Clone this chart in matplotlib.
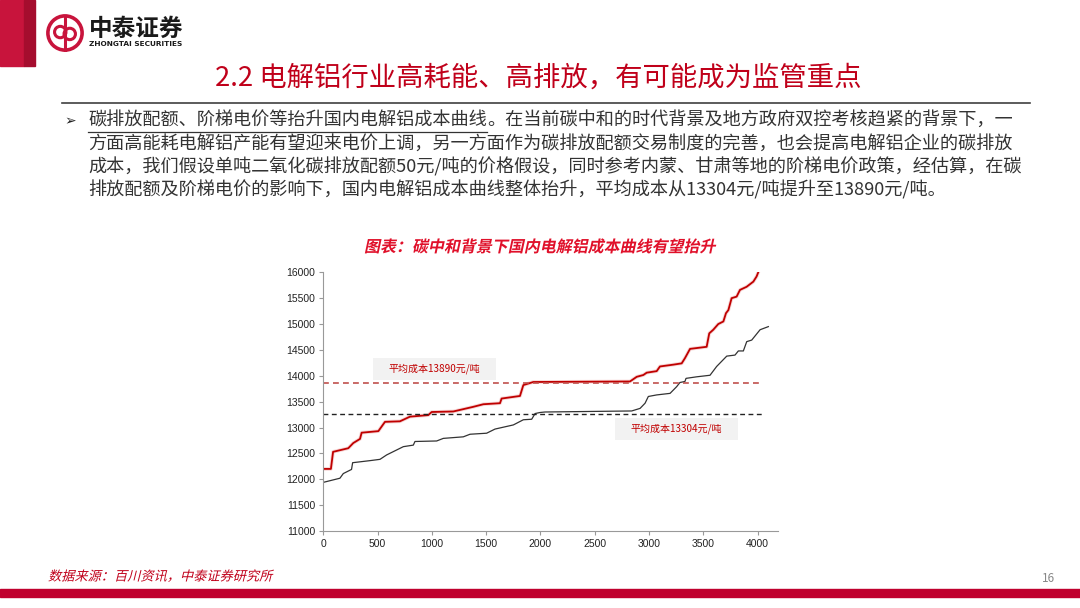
import matplotlib
matplotlib.use("Agg")
import matplotlib.pyplot as plt
from matplotlib.patches import Rectangle, Circle
from matplotlib.lines import Line2D
from matplotlib.patheffects import AbstractPathEffect
from matplotlib.transforms import Affine2D

plt.rcParams['font.family'] = ['Noto Sans CJK SC', 'DejaVu Sans']

# ---- data ----
red_x = [0, 70, 90, 230, 276, 338, 353, 507, 568, 706, 798, 967, 998, 1197, 1381,
         1474, 1627, 1642, 1811, 1842, 1934, 2824, 2886, 2947, 2978, 3070, 3100,
         3223, 3300, 3330, 3377, 3530, 3554, 3591, 3637, 3684, 3708, 3730, 3760,
         3806, 3837, 3898, 3960, 3990, 4005]
red_y = [12200, 12200, 12530, 12600, 12700, 12780, 12900, 12930, 13110, 13120, 13210,
         13240, 13300, 13310, 13400, 13450, 13470, 13560, 13610, 13820, 13880, 13890,
         13980, 14015, 14060, 14090, 14180, 14215, 14240, 14340, 14520, 14560, 14820,
         14890, 15000, 15050, 15210, 15270, 15500, 15530, 15660, 15720, 15820, 15920,
         16000]
blk_x = [0, 153, 184, 260, 270, 430, 522, 583, 737, 829, 844, 1044, 1105, 1289, 1351,
         1504, 1581, 1750, 1842, 1919, 1950, 1995, 2041, 2840, 2917, 2963, 2993, 3070,
         3193, 3254, 3284, 3330, 3340, 3438, 3561, 3622, 3715, 3791, 3822, 3868, 3899,
         3945, 4022, 4098]
blk_y = [11940, 12020, 12110, 12190, 12320, 12360, 12385, 12470, 12630, 12660, 12730,
         12740, 12790, 12820, 12870, 12890, 12970, 13050, 13150, 13160, 13270, 13290,
         13300, 13320, 13370, 13470, 13600, 13630, 13660, 13790, 13870, 13890, 13950,
         13980, 14010, 14180, 14380, 14400, 14480, 14480, 14660, 14690, 14890, 14950]
avg_new = 13870   # dashed red level as drawn
avg_old = 13270   # dashed black level as drawn
avg_end = 4036
label_new = "平均成本13890元/吨"
label_old = "平均成本13304元/吨"
x_ticks = [0, 500, 1000, 1500, 2000, 2500, 3000, 3500, 4000]
y_ticks = [11000, 11500, 12000, 12500, 13000, 13500, 14000, 14500, 15000, 15500, 16000]

title = "2.2 电解铝行业高耗能、高排放，有可能成为监管重点"
chart_title = "图表：碳中和背景下国内电解铝成本曲线有望抬升"
body_lead = "碳排放配额、阶梯电价等抬升国内电解铝成本曲线"
body_lines = [
    "。在当前碳中和的时代背景及地方政府双控考核趋紧的背景下，一",
    "方面高能耗电解铝产能有望迎来电价上调，另一方面作为碳排放配额交易制度的完善，也会提高电解铝企业的碳排放",
    "成本，我们假设单吨二氧化碳排放配额50元/吨的价格假设，同时参考内蒙、甘肃等地的阶梯电价政策，经估算，在碳",
    "排放配额及阶梯电价的影响下，国内电解铝成本曲线整体抬升，平均成本从13304元/吨提升至13890元/吨。",
]
source = "数据来源：百川资讯，中泰证券研究所"

W, H = 1080, 608
RED = '#c0001a'


class Skew(AbstractPathEffect):
    # fake italic for CJK fonts
    def __init__(self, deg=12):
        super().__init__()
        self.deg = deg

    def draw_path(self, renderer, gc, tpath, affine, rgbFace=None):
        renderer.draw_path(gc, tpath, Affine2D().skew_deg(self.deg, 0) + affine, rgbFace)


def fx(px):
    return px / W


def fy(py):
    return 1 - py / H


fig = plt.figure(figsize=(10.8, 6.08), dpi=100)

# --- header ---
fig.patches.append(Rectangle((0, fy(66)), fx(24), 66 / H, transform=fig.transFigure,
                             color='#c8143c', zorder=1))
fig.patches.append(Rectangle((fx(24), fy(66)), fx(11), 66 / H, transform=fig.transFigure,
                             color='#a50d2e', zorder=1))
logo = fig.add_axes([fx(46), fy(52), fx(38), 38 / H])
logo.set_xlim(-1, 1)
logo.set_ylim(-1, 1)
logo.set_aspect('equal')
logo.axis('off')
logo.add_patch(Circle((0, 0), 0.9, fill=False, ec='#c8143c', lw=2.6))
logo.add_patch(Circle((-0.25, 0.05), 0.3, fill=False, ec='#c8143c', lw=2.2))
logo.add_patch(Circle((0.25, -0.05), 0.3, fill=False, ec='#c8143c', lw=2.2))
logo.plot([0, 0], [-0.9, 0.9], color='#c8143c', lw=2.2)
fig.text(fx(89), fy(29), "中泰证券", fontsize=17, fontweight='bold', color='#1a1a1a',
         va='center', ha='left')
fig.text(fx(89), fy(44), "ZHONGTAI SECURITIES", fontsize=5.3, fontweight='bold',
         color='#1a1a1a', va='center', ha='left', family='DejaVu Sans')

fig.text(fx(538), fy(78), title, fontsize=19.7, color=RED, ha='center', va='center',
         fontweight='medium')
fig.lines.append(Line2D([fx(62), fx(1030)], [fy(103), fy(103)], transform=fig.transFigure,
                        color='#404040', lw=1.2))

# --- body text ---
fs_body = 13.1
fig.text(fx(64), fy(121), "➢", fontsize=10, color='#222222', ha='left', va='center',
         family='DejaVu Sans')
t_lead = fig.text(fx(88), fy(121), body_lead, fontsize=fs_body, color='#333333',
                  ha='left', va='center')
fig.canvas.draw()
bb = t_lead.get_window_extent()
fig.lines.append(Line2D([fx(88), bb.x1 / W], [fy(131.5), fy(131.5)],
                        transform=fig.transFigure, color='#333333', lw=0.9))
fig.text(bb.x1 / W, fy(121), body_lines[0], fontsize=fs_body, color='#333333',
         ha='left', va='center')
for i, line in enumerate(body_lines[1:]):
    fig.text(fx(88), fy(144 + 22.7 * i), line, fontsize=fs_body, color='#333333',
             ha='left', va='center')

# --- chart ---
fig.text(fx(540), fy(247), chart_title, fontsize=11.5, fontweight='bold', color='#e0102a',
         ha='center', va='center', path_effects=[Skew(12)])

ax = fig.add_axes([fx(323.3), fy(531), fx(778 - 323.3), (531 - 272.3) / H])
ax.plot(red_x, red_y, color='#e88a8a', lw=2.6, alpha=0.35, solid_joinstyle='round')
ax.plot(red_x, red_y, color='#c00000', lw=1.3)
ax.plot(blk_x, blk_y, color='#333333', lw=0.9)
ax.plot([0, avg_end], [avg_new, avg_new], color='#c0504d', lw=1.2, ls=(0, (3.5, 2.5)))
ax.plot([0, avg_end], [avg_old, avg_old], color='#222222', lw=1.0, ls=(0, (3.5, 2.5)))

# label boxes (sizes in data units, about 123 x 22 px)
box_w, box_h = 1133, 425
for cx, cy, txt in [(1020, 14140, label_new), (3248, 12980, label_old)]:
    ax.add_patch(Rectangle((cx - box_w / 2, cy - box_h / 2), box_w, box_h,
                           fc='#f2f2f2', ec='none', zorder=1))
    ax.text(cx, cy, txt, fontsize=7.2, color='#c00000', ha='center', va='center',
            zorder=2)

ax.set_xlim(0, 4187)
ax.set_ylim(11000, 16000)
ax.set_xticks(x_ticks)
ax.set_yticks(y_ticks)
ax.tick_params(labelsize=7.5, length=3, color='#999999', labelcolor='#222222', pad=3)
for lab in ax.get_xticklabels() + ax.get_yticklabels():
    lab.set_family('Liberation Sans')
for s in ['top', 'right']:
    ax.spines[s].set_visible(False)
for s in ['left', 'bottom']:
    ax.spines[s].set_color('#999999')
    ax.spines[s].set_linewidth(0.8)

# --- footer ---
fig.text(fx(48), fy(577), source, fontsize=9.5, color='#c0001a', ha='left', va='center',
         path_effects=[Skew(14)])
fig.text(fx(1055), fy(579), "16", fontsize=8.5, color='#888888', ha='right', va='center')
fig.patches.append(Rectangle((0, fy(597)), 1, 8 / H, transform=fig.transFigure,
                             color='#c0002e', zorder=1))

fig.savefig("out.png", dpi=100)
